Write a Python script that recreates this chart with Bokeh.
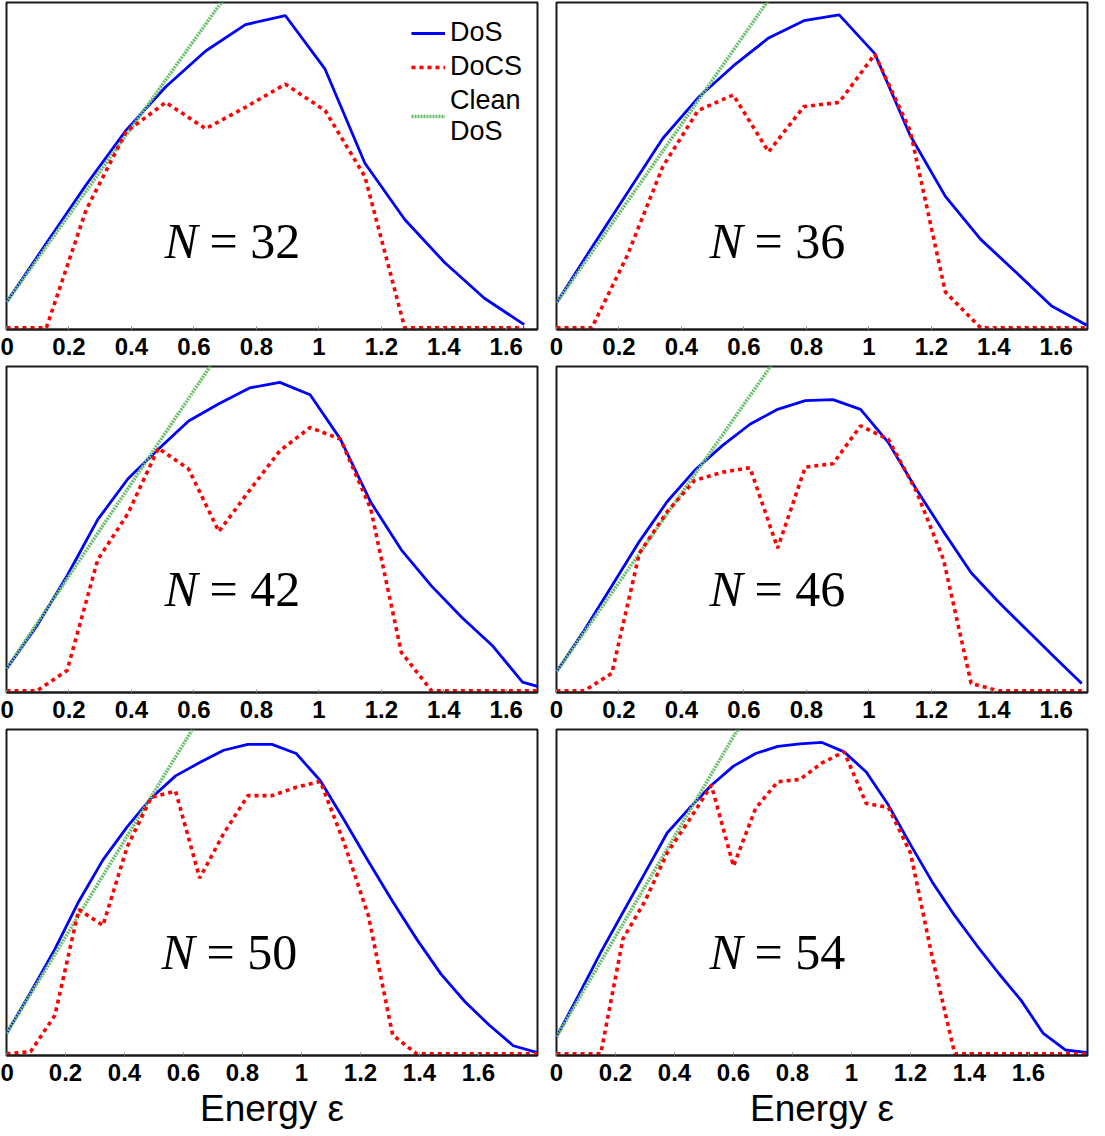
from bokeh.plotting import figure
from bokeh.layouts import column, row
from bokeh.models import FixedTicker, Label, Legend, LegendItem
from bokeh.embed import file_html
from bokeh.resources import INLINE

# ---------------- data ----------------
tick_vals = [0, 0.2, 0.4, 0.6, 0.8, 1, 1.2, 1.4, 1.6]
tick_labels = ["0", "0.2", "0.4", "0.6", "0.8", "1", "1.2", "1.4", "1.6"]

n_labels = ["32", "36", "42", "46", "50", "54"]
x_max = [1.7, 1.7, 1.7, 1.7, 1.8, 1.8]

e32 = [0, 0.1275, 0.255, 0.3825, 0.51, 0.6375, 0.765, 0.8925, 1.02, 1.1475, 1.275, 1.4025, 1.53, 1.6575]
dos32 = [0.079, 0.26, 0.44, 0.607, 0.741, 0.851, 0.932, 0.960, 0.795, 0.506, 0.333, 0.201, 0.091, 0.010]
docs32 = [0, 0, 0.363, 0.602, 0.693, 0.612, 0.678, 0.749, 0.668, 0.465, 0, 0, 0, 0]

e36 = [0, 0.113, 0.226, 0.34, 0.453, 0.566, 0.679, 0.792, 0.905, 1.019, 1.132, 1.245, 1.358, 1.471, 1.585, 1.698]
dos36 = [0.077, 0.247, 0.414, 0.582, 0.707, 0.805, 0.891, 0.944, 0.962, 0.843, 0.592, 0.404, 0.272, 0.171, 0.067, 0.008]
docs36 = [0, 0, 0.221, 0.495, 0.668, 0.716, 0.541, 0.680, 0.693, 0.841, 0.607, 0.110, 0, 0, 0, 0]

e42 = [0, 0.097, 0.194, 0.292, 0.389, 0.486, 0.583, 0.680, 0.778, 0.875, 0.972, 1.069, 1.166, 1.264, 1.361, 1.458, 1.555, 1.652, 1.750]
dos42 = [0.068, 0.200, 0.355, 0.528, 0.654, 0.745, 0.832, 0.885, 0.934, 0.951, 0.913, 0.776, 0.582, 0.435, 0.323, 0.226, 0.140, 0.027, 0.0]
docs42 = [0, 0, 0.063, 0.404, 0.547, 0.748, 0.684, 0.491, 0.618, 0.740, 0.812, 0.776, 0.562, 0.119, 0, 0, 0, 0, 0]

e46 = [0, 0.0885, 0.177, 0.2655, 0.354, 0.4425, 0.531, 0.6195, 0.708, 0.7965, 0.885, 0.9735, 1.062, 1.1505, 1.239, 1.3275, 1.416, 1.5045, 1.593, 1.6815]
dos46 = [0.059, 0.186, 0.323, 0.461, 0.583, 0.680, 0.756, 0.822, 0.868, 0.895, 0.898, 0.868, 0.766, 0.624, 0.491, 0.364, 0.273, 0.189, 0.105, 0.023]
docs46 = [0, 0, 0.054, 0.425, 0.552, 0.649, 0.674, 0.688, 0.440, 0.690, 0.700, 0.817, 0.776, 0.619, 0.405, 0.023, 0, 0, 0, 0]

e50 = [0, 0.082, 0.164, 0.245, 0.327, 0.409, 0.491, 0.573, 0.655, 0.736, 0.818, 0.9, 0.982, 1.064, 1.145, 1.227, 1.309, 1.391, 1.473, 1.555, 1.636, 1.718, 1.8]
dos50 = [0.063, 0.190, 0.323, 0.470, 0.598, 0.700, 0.789, 0.857, 0.898, 0.936, 0.954, 0.954, 0.926, 0.842, 0.720, 0.593, 0.470, 0.353, 0.246, 0.160, 0.089, 0.025, 0.004]
docs50 = [0, 0.007, 0.119, 0.445, 0.396, 0.638, 0.791, 0.810, 0.542, 0.679, 0.796, 0.796, 0.822, 0.840, 0.649, 0.425, 0.058, 0, 0, 0, 0, 0, 0]

e54 = [0, 0.075, 0.15, 0.225, 0.3, 0.375, 0.45, 0.525, 0.6, 0.675, 0.75, 0.825, 0.9, 0.975, 1.05, 1.125, 1.2, 1.275, 1.35, 1.425, 1.5, 1.575, 1.65, 1.725, 1.8]
dos54 = [0.053, 0.181, 0.313, 0.436, 0.558, 0.681, 0.757, 0.828, 0.887, 0.926, 0.948, 0.956, 0.960, 0.931, 0.869, 0.767, 0.645, 0.528, 0.426, 0.334, 0.247, 0.165, 0.063, 0.012, 0.004]
docs54 = [0, 0, 0, 0.354, 0.471, 0.619, 0.721, 0.828, 0.579, 0.757, 0.839, 0.846, 0.897, 0.931, 0.772, 0.760, 0.619, 0.293, 0, 0, 0, 0, 0, 0, 0]

clean_e = [0, 0.8]
clean32 = [0.079, 1.151]
clean36 = [0.077, 1.174]
clean42 = [0.068, 1.212]
clean46 = [0.059, 1.158]
clean50 = [0.063, 1.253]
clean54 = [0.053, 1.287]

energies = [e32, e36, e42, e46, e50, e54]
dos_all = [dos32, dos36, dos42, dos46, dos50, dos54]
docs_all = [docs32, docs36, docs42, docs46, docs50, docs54]
clean_all = [clean32, clean36, clean42, clean46, clean50, clean54]

# ---------------- styling ----------------
BLUE = "#0000ff"
RED = "#ff0000"
GREEN = "#6cbf6c"
SANS = "Liberation Sans"
SERIF = "Liberation Serif"

FRAME_W = 531
n_pos = [(0.2976, 0.266), (0.288, 0.266), (0.2976, 0.313), (0.288, 0.313), (0.292, 0.313), (0.288, 0.313)]


def make_panel(i):
    rown, coln = divmod(i, 2)
    fh = 327 if rown == 0 else 326
    bottom = 80 if rown == 2 else 35
    p = figure(
        frame_width=FRAME_W, frame_height=fh,
        x_range=(0, x_max[i]), y_range=(-0.005, 1.0),
        y_axis_location=None, toolbar_location=None,
        output_backend="svg",
        min_border_left=6 if coln == 0 else 10,
        min_border_right=9 if coln == 0 else 10,
        min_border_top=2, min_border_bottom=bottom,
        background_fill_color="white", border_fill_color="white",
    )
    p.grid.visible = False
    p.outline_line_color = "#1a1a1a"
    p.outline_line_width = 2
    p.outline_line_alpha = 1

    ax = p.xaxis[0]
    ax.ticker = FixedTicker(ticks=tick_vals)
    ax.major_label_overrides = {v: s for v, s in zip(tick_vals, tick_labels)}
    ax.minor_tick_line_color = None
    ax.major_tick_in = 3
    ax.major_tick_out = 0
    ax.major_tick_line_color = "#888888"
    ax.axis_line_color = "#1a1a1a"
    ax.axis_line_width = 2
    ax.major_label_text_font = SANS
    ax.major_label_text_font_style = "bold"
    ax.major_label_text_font_size = "24px"
    ax.major_label_text_color = "black"
    ax.major_label_standoff = 8
    if rown == 2:
        ax.axis_label = "Energy ε"
        ax.axis_label_text_font = SANS
        ax.axis_label_text_font_style = "normal"
        ax.axis_label_text_font_size = "37px"
        ax.axis_label_text_color = "black"
        ax.axis_label_standoff = 4

    r_dos = p.line(energies[i], dos_all[i], line_color=BLUE, line_width=2.8)
    r_clean = p.line(clean_e, clean_all[i], line_color=GREEN, line_width=3.5, line_dash="2 1")
    r_docs = p.line(energies[i], docs_all[i], line_color=RED, line_width=3.6, line_dash="4 4")

    fx, fy = n_pos[i]
    p.add_layout(Label(x=fx * x_max[i], y=fy, text="N", text_font=SERIF,
                       text_font_style="italic", text_font_size="50px",
                       text_color="black", text_baseline="alphabetic"))
    p.add_layout(Label(x=fx * x_max[i], y=fy, x_offset=45, text="= " + n_labels[i],
                       text_font=SERIF, text_font_size="50px",
                       text_color="black", text_baseline="alphabetic"))

    if i == 0:
        legend = Legend(items=[
            LegendItem(label="DoS", renderers=[r_dos]),
            LegendItem(label="DoCS", renderers=[r_docs]),
            LegendItem(label="Clean\nDoS", renderers=[r_clean]),
        ], location="top_right")
        legend.margin = 15
        legend.padding = 0
        legend.spacing = 3
        legend.glyph_width = 34
        legend.glyph_height = 20
        legend.label_height = 20
        legend.label_standoff = 5
        legend.label_text_font = SANS
        legend.label_text_font_size = "27px"
        legend.label_text_line_height = 1.0
        legend.label_text_color = "black"
        legend.background_fill_alpha = 0
        legend.border_line_color = None
        p.add_layout(legend, "center")
    return p


panels = [make_panel(i) for i in range(6)]
layout = column(
    row(panels[0], panels[1]),
    row(panels[2], panels[3]),
    row(panels[4], panels[5]),
)

open("out.html", "w").write(file_html(layout, INLINE))
